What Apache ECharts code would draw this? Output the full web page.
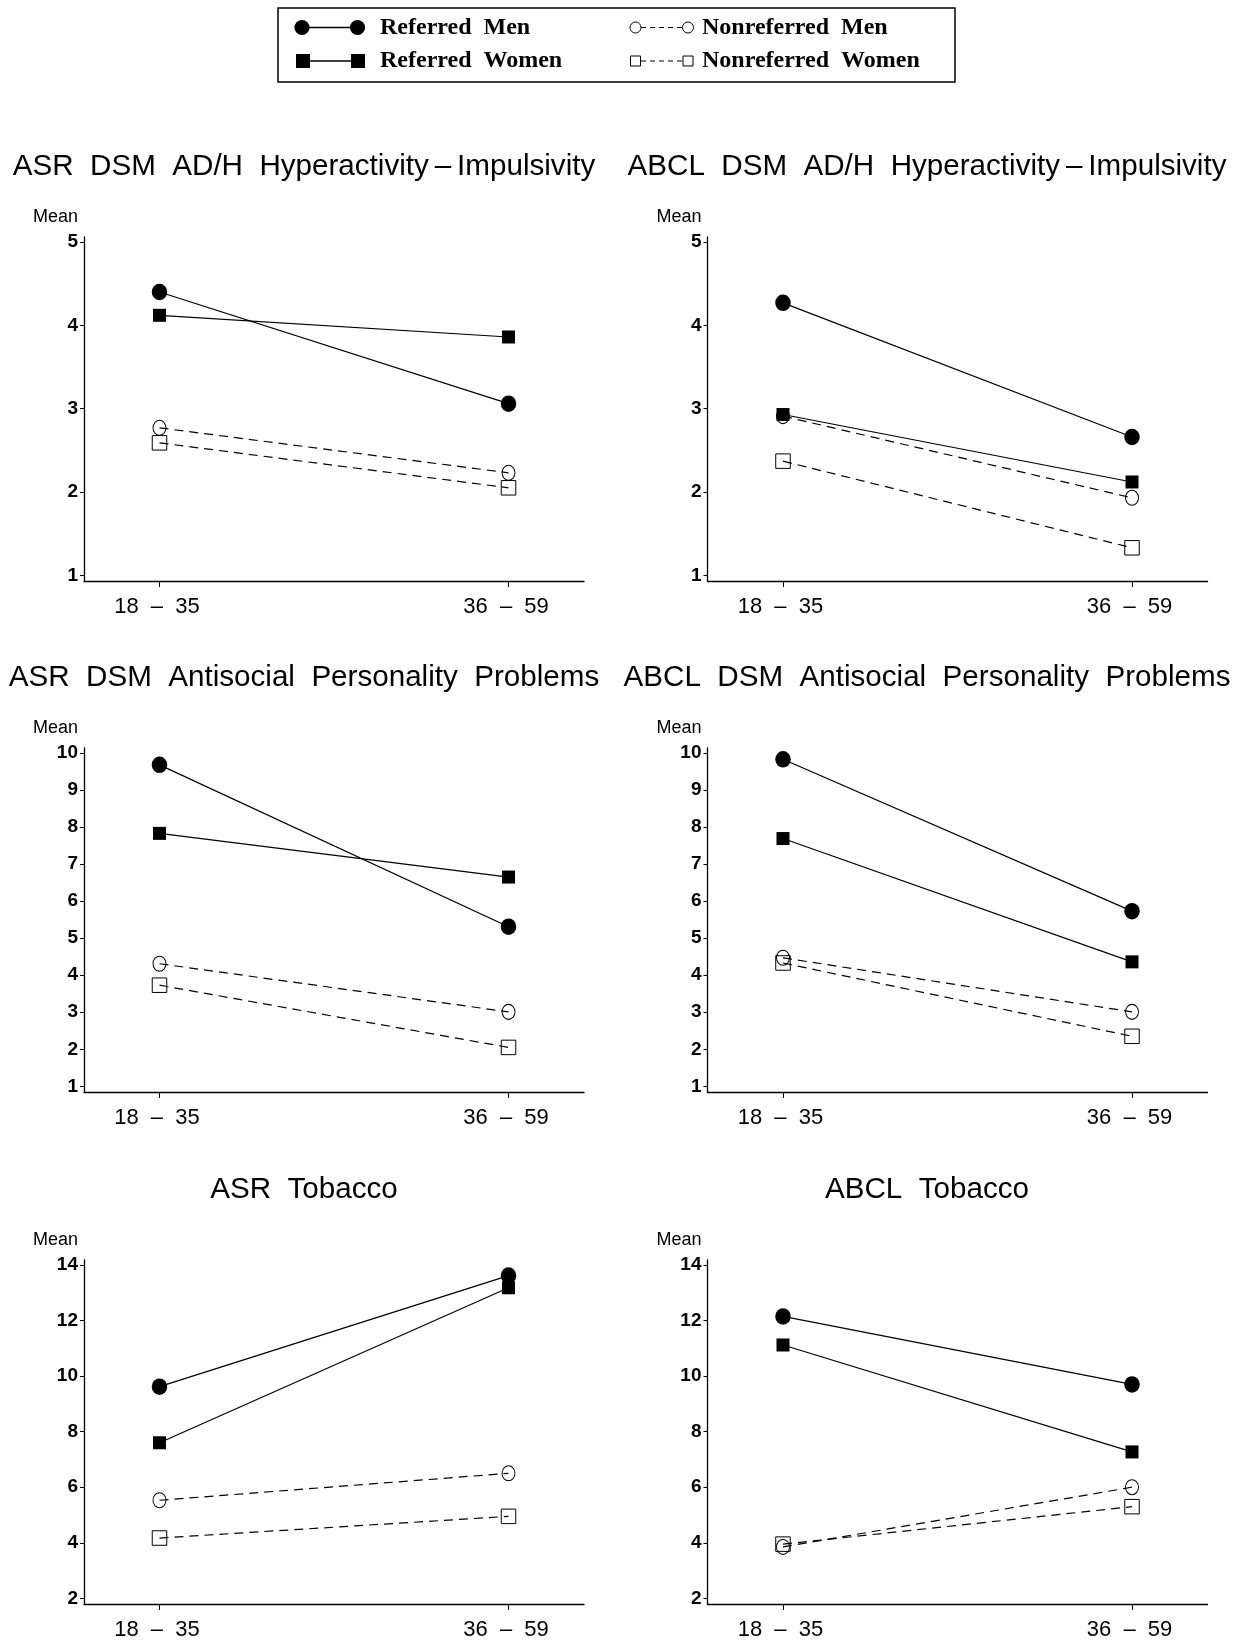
<!DOCTYPE html>
<html>
<head>
<meta charset="utf-8">
<script src="https://cdn.jsdelivr.net/npm/echarts@6/dist/echarts.min.js"></script>
<style>
html,body{margin:0;padding:0;background:#fff;}
#chart{width:1240px;height:1644px;}
</style>
</head>
<body>
<div id="chart"></div>
<script>
// age groups on the x axis
var ageGroups = ['18  \u2013  35', '36  \u2013  59'];
var groupNames = ['Referred Men', 'Referred Women', 'Nonreferred Men', 'Nonreferred Women'];

var panelTitles = [
	'ASR  DSM  AD/H  Hyperactivity\u2009\u2013\u2009Impulsivity',
	'ABCL  DSM  AD/H  Hyperactivity\u2009\u2013\u2009Impulsivity',
	'ASR  DSM  Antisocial  Personality  Problems',
	'ABCL  DSM  Antisocial  Personality  Problems',
	'ASR  Tobacco',
	'ABCL  Tobacco'
];

// y tick labels per panel
var ticksHyper = [1, 2, 3, 4, 5];
var ticksAntisocial = [1, 2, 3, 4, 5, 6, 7, 8, 9, 10];
var ticksTobacco = [2, 4, 6, 8, 10, 12, 14];

// means, rows in groupNames order, columns in ageGroups order
var asrHyper = [[4.40, 3.06], [4.12, 3.86], [2.77, 2.23], [2.59, 2.05]];
var abclHyper = [[4.27, 2.66], [2.93, 2.12], [2.91, 1.93], [2.37, 1.33]];
var asrAntisocial = [[9.68, 5.31], [7.83, 6.65], [4.31, 3.01], [3.73, 2.05]];
var abclAntisocial = [[9.83, 5.73], [7.69, 4.36], [4.47, 3.01], [4.33, 2.35]];
var asrTobacco = [[9.62, 13.62], [7.60, 13.18], [5.53, 6.50], [4.17, 4.95]];
var abclTobacco = [[12.15, 9.70], [11.12, 7.27], [3.85, 6.00], [3.95, 5.30]];

var panelData = [asrHyper, abclHyper, asrAntisocial, abclAntisocial, asrTobacco, abclTobacco];
var panelTicks = [ticksHyper, ticksHyper, ticksAntisocial, ticksAntisocial, ticksTobacco, ticksTobacco];

// layout
var colLeft = [84, 707.5];
var titleX = [304, 927];
var rowTop = [237, 748, 1260];
var titleY = [166.5, 678, 1189.5];
var gridW = 500, gridH = 344;
var FONT = "'Liberation Sans', Arial, Helvetica, sans-serif";
var SERIF = "'Liberation Serif', 'Times New Roman', serif";

var symbols = ['circle', 'rect', 'circle', 'rect'];
var symbolSizes = [[15.5, 16.5], 13, [13, 15], 14.5];

var option = {
	backgroundColor: '#fff',
	animation: false,
	title: [], grid: [], xAxis: [], yAxis: [], series: [], graphic: []
};

for (var p = 0; p < 6; p++) {
	var col = p % 2, row = Math.floor(p / 2);
	var ticks = panelTicks[p];
	var lo = ticks[0], hi = ticks[ticks.length - 1];
	var span = hi - lo;
	option.title.push({
		text: panelTitles[p],
		left: titleX[col], top: titleY[row],
		textAlign: 'center', textVerticalAlign: 'middle', padding: 0,
		textStyle: {fontFamily: FONT, fontWeight: 'normal', fontSize: 29.6, color: '#000'}
	});
	option.grid.push({left: colLeft[col], top: rowTop[row], width: gridW, height: gridH});
	option.xAxis.push({
		type: 'value', gridIndex: p,
		min: -0.2163, max: 1.2163,
		splitLine: {show: false},
		axisLine: {onZero: false, lineStyle: {color: '#000', width: 1.3}},
		axisTick: {customValues: [0, 1], length: 6, lineStyle: {color: '#000', width: 1}},
		axisLabel: {
			customValues: [0, 1], margin: 15,
			fontFamily: FONT, fontSize: 22, color: '#000',
			padding: [0, 5, 0, 0],
			formatter: function (v) { return ageGroups[Math.round(v)]; }
		}
	});
	option.yAxis.push({
		type: 'value', gridIndex: p,
		min: lo - span * 5.7 / 333.3,
		max: hi + span * 5 / 333.3,
		name: 'Mean', nameLocation: 'end', nameGap: 11,
		nameTextStyle: {fontFamily: FONT, fontSize: 18, color: '#000', align: 'right', padding: [0, 6, 0, 0]},
		splitLine: {show: false},
		axisLine: {show: true, onZero: false, lineStyle: {color: '#000', width: 1.3}},
		axisTick: {show: true, customValues: ticks, length: 4, lineStyle: {color: '#000', width: 1}},
		axisLabel: {customValues: ticks, margin: 6, fontFamily: FONT, fontSize: 19, fontWeight: 'bold', color: '#000'}
	});
	for (var g = 0; g < 4; g++) {
		var vals = panelData[p][g];
		var open = g >= 2;
		option.series.push({
			type: 'line', name: groupNames[g],
			xAxisIndex: p, yAxisIndex: p,
			data: vals.map(function (v, i) { return [i, v]; }),
			symbol: symbols[g], symbolSize: symbolSizes[g],
			showAllSymbol: true, silent: true,
			lineStyle: {color: '#000', width: 1.2, type: open ? [9, 6] : 'solid'},
			itemStyle: open ? {color: 'rgba(0,0,0,0)', borderColor: '#000', borderWidth: 1}
			                : {color: '#000', borderWidth: 0},
			z: open ? 2 : 3
		});
	}
}

// legend box drawn by hand: marker - line - marker, like the original key
var legendText = {fontFamily: SERIF, fontWeight: 'bold', fontSize: 24, fill: '#000', verticalAlign: 'middle'};
option.graphic = [
	{type: 'rect', shape: {x: 278, y: 8, width: 677, height: 74}, style: {fill: '#fff', stroke: '#000', lineWidth: 1.5}},
	// Referred Men
	{type: 'line', shape: {x1: 302, y1: 27.5, x2: 357.5, y2: 27.5}, style: {stroke: '#000', lineWidth: 1.5}},
	{type: 'circle', shape: {cx: 302, cy: 27.5, r: 7.6}, style: {fill: '#000'}},
	{type: 'circle', shape: {cx: 357.5, cy: 27.5, r: 7.6}, style: {fill: '#000'}},
	{type: 'text', x: 380, y: 27.5, style: echarts.util.extend({text: 'Referred  Men'}, legendText)},
	// Referred Women
	{type: 'line', shape: {x1: 303, y1: 61, x2: 358, y2: 61}, style: {stroke: '#000', lineWidth: 1.5}},
	{type: 'rect', shape: {x: 296, y: 54, width: 14, height: 14}, style: {fill: '#000'}},
	{type: 'rect', shape: {x: 351, y: 54, width: 14, height: 14}, style: {fill: '#000'}},
	{type: 'text', x: 380, y: 61, style: echarts.util.extend({text: 'Referred  Women'}, legendText)},
	// Nonreferred Men
	{type: 'line', shape: {x1: 641, y1: 27.5, x2: 682, y2: 27.5}, style: {stroke: '#000', lineWidth: 1, lineDash: [5, 4]}},
	{type: 'circle', shape: {cx: 635.5, cy: 27.5, r: 5.5}, style: {fill: '#fff', stroke: '#000', lineWidth: 1}},
	{type: 'circle', shape: {cx: 688, cy: 27.5, r: 5.5}, style: {fill: '#fff', stroke: '#000', lineWidth: 1}},
	{type: 'text', x: 702, y: 27.5, style: echarts.util.extend({text: 'Nonreferred  Men'}, legendText)},
	// Nonreferred Women
	{type: 'line', shape: {x1: 641, y1: 61, x2: 682, y2: 61}, style: {stroke: '#000', lineWidth: 1, lineDash: [5, 4]}},
	{type: 'rect', shape: {x: 630.5, y: 56, width: 10, height: 10}, style: {fill: '#fff', stroke: '#000', lineWidth: 1}},
	{type: 'rect', shape: {x: 683, y: 56, width: 10, height: 10}, style: {fill: '#fff', stroke: '#000', lineWidth: 1}},
	{type: 'text', x: 702, y: 61, style: echarts.util.extend({text: 'Nonreferred  Women'}, legendText)}
];

var myChart = echarts.init(document.getElementById('chart'));
myChart.setOption(option, true);
</script>
</body>
</html>
